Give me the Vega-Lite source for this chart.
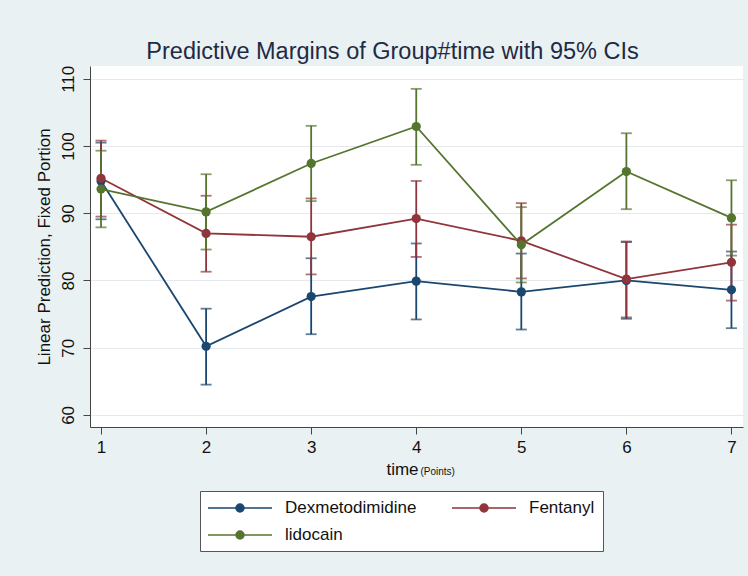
{
  "$schema": "https://vega.github.io/schema/vega-lite/v6.json",
  "width": 653,
  "height": 361,
  "autosize": {"type": "none"},
  "padding": {"left": 90, "top": 66, "right": 5, "bottom": 149},
  "background": "#eaf1f3",
  "title": {
    "text": "Predictive Margins of Group#time with 95% CIs",
    "font": "Liberation Sans",
    "fontSize": 23.5,
    "fontWeight": "normal",
    "color": "#1f2a44",
    "anchor": "middle",
    "dx": -24,
    "offset": 2
  },
  "config": {
    "font": "Liberation Sans",
    "view": {"fill": "white", "stroke": null},
    "axis": {
      "domainColor": "#444444",
      "tickColor": "#444444",
      "labelColor": "#111111",
      "titleColor": "#111111",
      "labelFontSize": 17,
      "titleFontSize": 17,
      "titleFontWeight": "normal",
      "labelFont": "Liberation Sans",
      "titleFont": "Liberation Sans"
    },
    "legend": {
      "orient": "none",
      "legendX": 110,
      "legendY": 425,
      "columns": 2,
      "title": null,
      "fillColor": "white",
      "strokeColor": "#555555",
      "padding": 8,
      "labelFontSize": 17,
      "labelColor": "#111111",
      "labelFont": "Liberation Sans",
      "symbolType": "M-4,0H4M-0.5,0A0.5,0.5 0 1,0 0.5,0A0.5,0.5 0 1,0 -0.5,0",
      "symbolSize": 256,
      "symbolStrokeWidth": 1.5,
      "symbolOffset": 23,
      "labelOffset": 36,
      "columnPadding": 32,
      "rowPadding": 10
    }
  },
  "data": {
    "values": [
      {"group": "Dexmetodimidine", "time": 1, "mean": 94.8, "lo": 89.1, "hi": 100.5},
      {"group": "Dexmetodimidine", "time": 2, "mean": 70.2, "lo": 64.5, "hi": 75.8},
      {"group": "Dexmetodimidine", "time": 3, "mean": 77.6, "lo": 72.0, "hi": 83.3},
      {"group": "Dexmetodimidine", "time": 4, "mean": 79.9, "lo": 74.2, "hi": 85.5},
      {"group": "Dexmetodimidine", "time": 5, "mean": 78.3, "lo": 72.7, "hi": 84.0},
      {"group": "Dexmetodimidine", "time": 6, "mean": 80.0, "lo": 74.3, "hi": 85.7},
      {"group": "Dexmetodimidine", "time": 7, "mean": 78.6, "lo": 72.9, "hi": 84.3},
      {"group": "Fentanyl", "time": 1, "mean": 95.2, "lo": 89.5, "hi": 100.8},
      {"group": "Fentanyl", "time": 2, "mean": 87.0, "lo": 81.3, "hi": 92.6},
      {"group": "Fentanyl", "time": 3, "mean": 86.5, "lo": 80.9, "hi": 92.2},
      {"group": "Fentanyl", "time": 4, "mean": 89.2, "lo": 83.5, "hi": 94.8},
      {"group": "Fentanyl", "time": 5, "mean": 85.9, "lo": 80.3, "hi": 91.5},
      {"group": "Fentanyl", "time": 6, "mean": 80.2, "lo": 74.5, "hi": 85.8},
      {"group": "Fentanyl", "time": 7, "mean": 82.7, "lo": 77.0, "hi": 88.3},
      {"group": "lidocain", "time": 1, "mean": 93.6, "lo": 87.9, "hi": 99.3},
      {"group": "lidocain", "time": 2, "mean": 90.2, "lo": 84.6, "hi": 95.8},
      {"group": "lidocain", "time": 3, "mean": 97.4, "lo": 91.8, "hi": 103.0},
      {"group": "lidocain", "time": 4, "mean": 102.9, "lo": 97.2, "hi": 108.5},
      {"group": "lidocain", "time": 5, "mean": 85.3, "lo": 79.7, "hi": 90.9},
      {"group": "lidocain", "time": 6, "mean": 96.2, "lo": 90.6, "hi": 101.9},
      {"group": "lidocain", "time": 7, "mean": 89.3, "lo": 83.7, "hi": 94.9}
    ]
  },
  "resolve": {"axis": {"x": "independent"}},
  "layer": [
    {
      "encoding": {
        "x": {
          "field": "time",
          "type": "quantitative",
          "scale": {"domain": [0.895, 7.11], "nice": false, "zero": false},
          "axis": {
            "orient": "bottom",
            "title": "time",
            "values": [1, 2, 3, 4, 5, 6, 7],
            "format": "d",
            "grid": false,
            "tickSize": 7,
            "labelPadding": 5,
            "titleX": 312,
            "titleY": 47,
            "titleAlign": "center",
            "titleBaseline": "alphabetic"
          }
        },
        "color": {
          "field": "group",
          "type": "nominal",
          "scale": {
            "domain": ["Dexmetodimidine", "lidocain", "Fentanyl"],
            "range": ["#1a476f", "#55752f", "#90353b"]
          },
          "legend": {
            "encode": {
              "symbols": {
                "update": {
                  "fill": {"scale": "color", "field": "value"},
                  "stroke": {"scale": "color", "field": "value"},
                  "strokeWidth": {"value": 1.5}
                }
              }
            }
          }
        }
      },
      "layer": [
        {
          "mark": {"type": "errorbar", "ticks": true, "size": 11, "thickness": 1.8},
          "encoding": {
            "y": {
              "field": "lo",
              "type": "quantitative",
              "title": "Linear Prediction, Fixed Portion",
              "scale": {"domain": [58.2, 111.9], "nice": false, "zero": false},
              "axis": {
                "values": [60, 70, 80, 90, 100, 110],
                "grid": true,
                "gridColor": "#e3e9ec",
                "gridWidth": 1.2,
                "tickSize": 7,
                "labelAngle": 270,
                "labelAlign": "center",
                "labelBaseline": "bottom",
                "labelPadding": 6,
                "titlePadding": 6
              }
            },
            "y2": {"field": "hi"}
          }
        },
        {
          "mark": {"type": "line", "strokeWidth": 1.8},
          "encoding": {
            "y": {"field": "mean", "type": "quantitative", "title": "Linear Prediction, Fixed Portion"}
          }
        },
        {
          "mark": {"type": "point", "filled": true, "size": 85, "opacity": 1},
          "encoding": {
            "y": {"field": "mean", "type": "quantitative", "title": "Linear Prediction, Fixed Portion"}
          }
        }
      ]
    },
    {
      "mark": {"type": "point", "opacity": 0},
      "encoding": {
        "x": {
          "field": "time",
          "type": "quantitative",
          "axis": {
            "orient": "bottom",
            "title": "(Points)",
            "titleFontSize": 10,
            "labels": false,
            "ticks": false,
            "domain": false,
            "grid": false,
            "titleX": 330,
            "titleY": 47,
            "titleAlign": "left",
            "titleBaseline": "alphabetic"
          }
        },
        "y": {"field": "mean", "type": "quantitative", "title": "Linear Prediction, Fixed Portion"}
      }
    }
  ],
  "encoding": {}
}
